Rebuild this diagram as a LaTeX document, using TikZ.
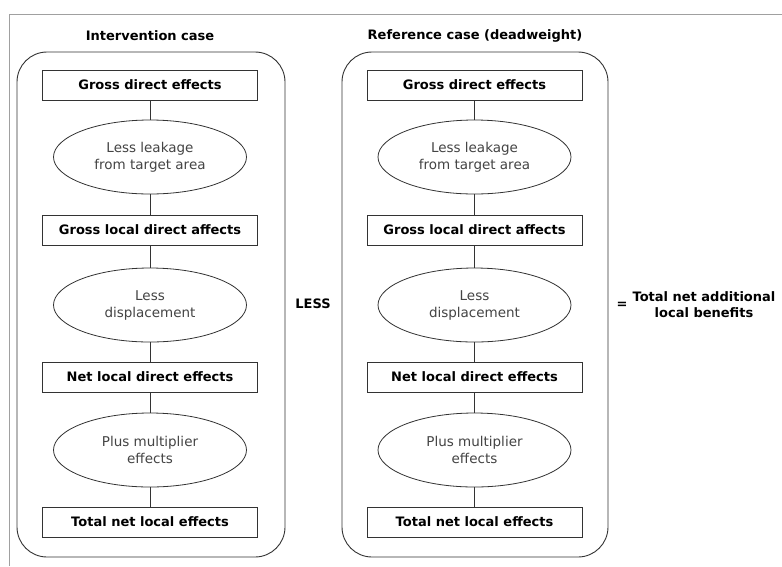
\documentclass[tikz,border=0pt]{standalone}
\usepackage{fontspec}
\setmainfont{DejaVu Sans}
\usetikzlibrary{shapes.geometric}
\definecolor{ln}{HTML}{333333}
\definecolor{frm}{HTML}{A0A0A0}
\definecolor{tx}{HTML}{444444}
\begin{document}
\begin{tikzpicture}[x=1pt,y=-1pt,
  rbox/.style={draw=ln, line width=0.9pt, minimum width=215pt, minimum height=30pt, inner sep=0pt, font=\fontsize{13}{15}\selectfont\bfseries, text=black},
  ell/.style={ellipse, draw=ln, line width=0.8pt, minimum width=193pt, minimum height=74pt, inner sep=0pt, align=center, font=\fontsize{13.5}{17}\selectfont, text=tx},
  conn/.style={draw=ln, line width=0.8pt},
  casebox/.style={draw=ln, line width=0.9pt, rounded corners=30pt},
  title/.style={font=\fontsize{13}{15}\selectfont\bfseries, text=black}
]
\useasboundingbox (0,0) rectangle (782,566);
\fill[white] (0,0) rectangle (782,566);
% outer frame
\draw[frm, line width=0.9pt] (9,566) -- (9,14) -- (782,14);

% case boxes
\draw[casebox] (17,52) rectangle (285,557);
\draw[casebox] (342,52) rectangle (608,557);

\node[title] (t1) at (150,36) {Intervention case};
\node[title] (t2) at (475,36) {Reference case (deadweight)};

% left column
\node[rbox] (a1) at (150,85) {Gross direct effects};
\node[ell] (a2) at (150,157) {Less leakage\\from target area};
\node[rbox] (a3) at (150,230) {Gross local direct affects};
\node[ell] (a4) at (150,305) {Less\\displacement};
\node[rbox] (a5) at (150,377) {Net local direct effects};
\node[ell] (a6) at (150,450) {Plus multiplier\\effects};
\node[rbox] (a7) at (150,522) {Total net local effects};

% right column
\node[rbox] (b1) at (474.5,85) {Gross direct effects};
\node[ell] (b2) at (474.5,157) {Less leakage\\from target area};
\node[rbox] (b3) at (474.5,230) {Gross local direct affects};
\node[ell] (b4) at (474.5,305) {Less\\displacement};
\node[rbox] (b5) at (474.5,377) {Net local direct effects};
\node[ell] (b6) at (474.5,450) {Plus multiplier\\effects};
\node[rbox] (b7) at (474.5,522) {Total net local effects};

\foreach \c in {a,b}{
  \draw[conn] (\c1.south) -- (\c2.north);
  \draw[conn] (\c2.south) -- (\c3.north);
  \draw[conn] (\c3.south) -- (\c4.north);
  \draw[conn] (\c4.south) -- (\c5.north);
  \draw[conn] (\c5.south) -- (\c6.north);
  \draw[conn] (\c6.south) -- (\c7.north);
}

\node[title] (less) at (313,304) {LESS};
\node[title] (eq) at (622,305) {=};
\node[title, align=center, font=\fontsize{13}{16}\selectfont\bfseries] (res) at (704,305) {Total net additional\\local benefits};
\end{tikzpicture}
\end{document}
